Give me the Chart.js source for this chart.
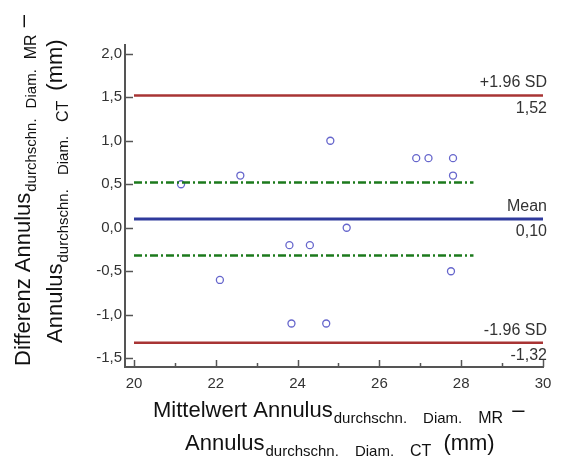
<!DOCTYPE html>
<html>
<head>
<meta charset="utf-8">
<script src="https://cdn.jsdelivr.net/npm/chart.js@4.4.0/dist/chart.umd.min.js"></script>
<style>
  html, body { margin: 0; padding: 0; background: #fff; }
  #wrap { width: 565px; height: 459px; position: relative; }
</style>
</head>
<body>
<div id="wrap"><canvas id="baChart"></canvas></div>
<script>
// Bland-Altman: mean of both methods (x) vs difference (y)
const meanValues = [21.15, 22.6, 22.1, 23.8, 23.85, 24.3, 24.7, 24.8, 25.2, 26.9, 27.2, 27.8, 27.8, 27.75];
const diffValues = [0.5, 0.6, -0.6, -0.2, -1.1, -0.2, -1.1, 1.0, 0.0, 0.8, 0.8, 0.8, 0.6, -0.5];

const limitLevels = [1.52, 0.10, -1.32];
const limitNames = ['+1.96 SD', 'Mean', '-1.96 SD'];
const limitLabels = ['1,52', '0,10', '-1,32'];
const limitColors = ['#a83434', '#2f3a9c', '#a83434'];
const limitRange = [20, 30];

const ciLevels = [0.52, -0.32];
const ciRange = [20, 28.3];

// title pieces: [text, style, gap before]  n = normal, s / m = subscript
const xTitle = [
    [['Mittelwert Annulus', 'n', 0], ['durchschn.', 's', 1], ['Diam.', 's', 16], ['MR', 'm', 16], ['\u2013', 'n', 9]],
    [['Annulus', 'n', 0], ['durchschn.', 's', 1], ['Diam.', 's', 16], ['CT', 'm', 16], ['(mm)', 'n', 12]]
];
const yTitle = [
    [['Differenz Annulus', 'n', 0], ['durchschn.', 's', 1], ['Diam.', 's', 10], ['MR', 'm', 10], ['\u2013', 'n', 7]],
    [['Annulus', 'n', 0], ['durchschn.', 's', 1], ['Diam.', 's', 14], ['CT', 'm', 14], ['(mm)', 'n', 10]]
];

const FONT = 'Arial, "Liberation Sans", sans-serif';

function drawRich(ctx, segs, x0, y) {
    const fonts = { n: '22px ' + FONT, s: '15px ' + FONT, m: '16px ' + FONT };
    const offs = { n: 0, s: 6, m: 6 };
    let x = x0;
    segs.forEach(s => {
        ctx.font = fonts[s[1]];
        x += s[2];
        ctx.fillText(s[0], x, y + offs[s[1]]);
        x += ctx.measureText(s[0]).width;
    });
}

const decorPlugin = {
    id: 'decor',
    afterDraw(chart) {
        const ctx = chart.ctx;
        const xs = chart.scales.x, ys = chart.scales.y;
        const area = chart.chartArea;
        ctx.save();
        // inward tick marks
        ctx.strokeStyle = '#555';
        ctx.lineWidth = 1.5;
        xs.ticks.forEach(t => {
            const px = Math.round(xs.getPixelForValue(t.value)) + 0.5;
            const len = (Math.round(t.value) % 2 === 0) ? 7 : 4;
            ctx.beginPath();
            ctx.moveTo(px, area.bottom);
            ctx.lineTo(px, area.bottom - len);
            ctx.stroke();
        });
        ys.ticks.forEach(t => {
            const py = Math.round(ys.getPixelForValue(t.value)) + 0.5;
            ctx.beginPath();
            ctx.moveTo(area.left, py);
            ctx.lineTo(area.left + 8, py);
            ctx.stroke();
        });
        // limit labels on the right
        ctx.fillStyle = '#333';
        ctx.font = '16px ' + FONT;
        ctx.textAlign = 'right';
        const rx = xs.getPixelForValue(limitRange[1]) + 4;
        limitLevels.forEach((v, i) => {
            const py = ys.getPixelForValue(v);
            ctx.textBaseline = 'alphabetic';
            ctx.fillText(limitNames[i], rx, py - 8);
            ctx.textBaseline = 'top';
            ctx.fillText(limitLabels[i], rx, py + 5);
        });
        // axis titles with subscripts
        ctx.textAlign = 'left';
        ctx.textBaseline = 'alphabetic';
        ctx.fillStyle = '#111';
        drawRich(ctx, xTitle[0], 153, 417);
        drawRich(ctx, xTitle[1], 185, 450);
        ctx.rotate(-Math.PI / 2);
        drawRich(ctx, yTitle[0], -366, 30);
        drawRich(ctx, yTitle[1], -343, 62);
        ctx.restore();
    }
};

function hLine(level, range, color, width, dash) {
    return {
        type: 'line',
        data: [{ x: range[0], y: level }, { x: range[1], y: level }],
        borderColor: color,
        borderWidth: width,
        borderDash: dash || [],
        pointRadius: 0,
        fill: false
    };
}

document.addEventListener('DOMContentLoaded', function () {
    const ctx = document.getElementById('baChart');
    const datasets = [];
    limitLevels.forEach((v, i) => datasets.push(hLine(v, limitRange, limitColors[i], i === 1 ? 3 : 2.5)));
    ciLevels.forEach(v => datasets.push(hLine(v, ciRange, '#1c7a1c', 2.5, [8, 3, 2, 3])));
    datasets.push({
        type: 'scatter',
        data: meanValues.map((m, i) => ({ x: m, y: diffValues[i] })),
        pointStyle: 'circle',
        pointRadius: 3.5,
        borderColor: '#6666cc',
        backgroundColor: 'rgba(0,0,0,0)',
        borderWidth: 1.3
    });

    new Chart(ctx, {
        type: 'scatter',
        data: { datasets: datasets },
        options: {
            responsive: true,
            maintainAspectRatio: false,
            animation: false,
            layout: { padding: { top: 45, right: 22, left: 0, bottom: 0 } },
            plugins: {
                legend: { display: false },
                tooltip: { enabled: false }
            },
            scales: {
                x: {
                    type: 'linear',
                    min: 19.78,
                    max: 30,
                    afterFit: s => { s.height = 92; },
                    grid: { display: false, drawTicks: false },
                    border: { display: true, color: '#555', width: 2 },
                    ticks: {
                        stepSize: 1,
                        includeBounds: false,
                        autoSkip: false,
                        maxRotation: 0,
                        padding: 8,
                        color: '#333',
                        font: { family: FONT, size: 15 },
                        callback: v => (Math.round(v) % 2 === 0 ? String(v) : '')
                    }
                },
                y: {
                    type: 'linear',
                    min: -1.6,
                    max: 2.1,
                    afterFit: s => { s.width = 125; },
                    grid: { display: false, drawTicks: false },
                    border: { display: true, color: '#555', width: 2 },
                    ticks: {
                        stepSize: 0.5,
                        includeBounds: false,
                        padding: 3,
                        color: '#333',
                        font: { family: FONT, size: 15 },
                        callback: v => v.toFixed(1).replace('.', ',')
                    }
                }
            }
        },
        plugins: [decorPlugin]
    });
});
</script>
</body>
</html>
